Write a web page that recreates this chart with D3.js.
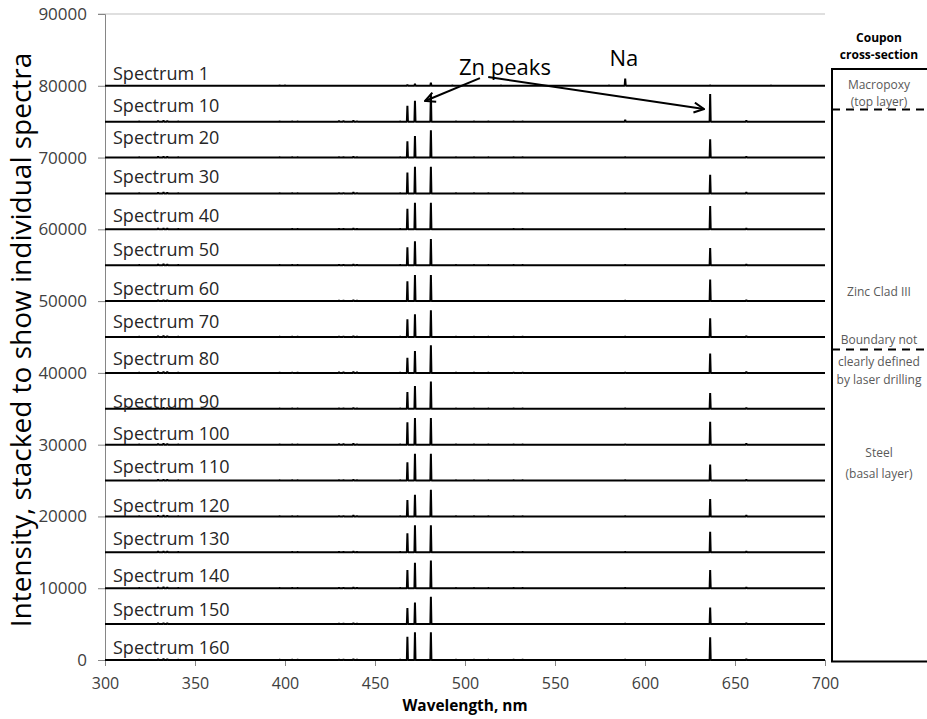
<!DOCTYPE html>
<html>
<head>
<meta charset="utf-8">
<script src="https://cdn.jsdelivr.net/npm/d3@7"></script>
<style>
  html, body { margin: 0; padding: 0; background: #fff; }
  svg { display: block; font-family: "Open Sans", "Noto Sans", sans-serif; }
</style>
</head>
<body>
<svg id="chart" width="927" height="719"></svg>
<script>
// Spectra, top to bottom, each lifted by its stack offset
const spectrumNames = ["Spectrum 1", "Spectrum 10", "Spectrum 20", "Spectrum 30", "Spectrum 40",
  "Spectrum 50", "Spectrum 60", "Spectrum 70", "Spectrum 80", "Spectrum 90", "Spectrum 100",
  "Spectrum 110", "Spectrum 120", "Spectrum 130", "Spectrum 140", "Spectrum 150", "Spectrum 160"];
const stackOffsets = [80000, 75000, 70000, 65000, 60000, 55000, 50000, 45000, 40000,
  35000, 30000, 25000, 20000, 15000, 10000, 5000, 0];

// Peak intensities above each spectrum's own baseline
const zn468 = [150, 2230, 2270, 2920, 2880, 2500, 2780, 2460, 2090, 2320, 3110, 2550, 2270, 2650, 2550, 2230, 3250];
const zn472 = [300, 2920, 3000, 3720, 3710, 3340, 3620, 3160, 3060, 3160, 3720, 3720, 3020, 3760, 3530, 3020, 3860];
const zn481 = [450, 3900, 3800, 3720, 3710, 3660, 3620, 3720, 3860, 3800, 3720, 3720, 3720, 3760, 3860, 3800, 3860];
const zn636 = [80, 3860, 2550, 2600, 3250, 2410, 3020, 2600, 2690, 2180, 3200, 2230, 2410, 2880, 2550, 2320, 3160];
const na589 = [1000, 250, 90, 80, 80, 80, 80, 80, 80, 80, 80, 80, 80, 80, 80, 80, 80];

// Weak lines seen in the coated/steel spectra: [wavelength nm, intensity]
const minorLines = [[319, 50], [329.5, 150], [332.5, 180], [334.6, 150], [340.7, 60],
  [397, 50], [404, 70], [407, 60], [430, 100], [432.5, 100], [438, 160], [440, 90],
  [464, 60], [495, 50], [505, 50], [513, 50], [527, 70], [532, 70], [656.3, 160]];
// Weak lines of the top (epoxy) spectrum
const topMinorLines = [[397, 80], [400, 70], [493, 80], [520, 50], [580, 60], [670, 40]];

const xTicks = [300, 350, 400, 450, 500, 550, 600, 650, 700];
const yTicks = [0, 10000, 20000, 30000, 40000, 50000, 60000, 70000, 80000, 90000];

const svg = d3.select("#chart");
const x = d3.scaleLinear().domain([300, 700]).range([105, 825]);
const y = d3.scaleLinear().domain([0, 90000]).range([660, 14]);
const axisGrey = "#868686";

// top frame line of the plot area
svg.append("line")
  .attr("x1", 98).attr("x2", 825)
  .attr("y1", y(90000)).attr("y2", y(90000))
  .attr("stroke", "#bfbfbf").attr("stroke-width", 1);

// Y axis
const yAxis = svg.append("g")
  .attr("transform", `translate(${x(300)},0)`)
  .call(d3.axisLeft(y).tickValues(yTicks).tickFormat(d3.format("d")).tickSize(7).tickPadding(11));
yAxis.select(".domain").attr("stroke", axisGrey).attr("stroke-width", 1);
yAxis.selectAll(".tick line").attr("stroke", axisGrey);
yAxis.selectAll(".tick text").attr("fill", "#404040").style("font-size", "17px")
  .style("font-family", "'Open Sans', sans-serif");

// X axis
const xAxis = svg.append("g")
  .attr("transform", `translate(0,${y(0)})`)
  .call(d3.axisBottom(x).tickValues(xTicks).tickSize(6).tickPadding(12));
xAxis.select(".domain").attr("stroke", axisGrey);
xAxis.selectAll(".tick line").attr("stroke", axisGrey);
xAxis.selectAll(".tick text").attr("fill", "#404040").style("font-size", "16px")
  .style("font-family", "'Open Sans', sans-serif");

// Build each spectrum as a baseline with narrow line peaks
function spectrumPeaks(i) {
  const peaks = (i === 0 ? topMinorLines : minorLines).slice();
  peaks.push([468.0, zn468[i]], [472.2, zn472[i]], [481.05, zn481[i]], [636.2, zn636[i]], [589.0, na589[i]]);
  peaks.sort((a, b) => a[0] - b[0]);
  const pts = [[300, 0]];
  peaks.forEach(([wl, h]) => { pts.push([wl - 0.3, 0], [wl, h], [wl + 0.3, 0]); });
  pts.push([700, 0]);
  return pts;
}

const spectra = spectrumNames.map((name, i) => ({ name, offset: stackOffsets[i], pts: spectrumPeaks(i) }));

const line = d3.line();
svg.append("g").selectAll("path")
  .data(spectra)
  .join("path")
  .attr("d", s => line(s.pts.map(([wl, v]) => [x(wl), y(v + s.offset)])))
  .attr("fill", "none")
  .attr("stroke", "#000")
  .attr("stroke-width", 2)
  .attr("stroke-linejoin", "bevel");

// Spectrum labels sit just above their baselines
const labelLift = [6, 10, 14, 10, 7, 9.5, 6, 9, 7.5, 1, 5, 8, 4, 7, 6, 8, 6];
svg.append("g").selectAll("text")
  .data(spectra)
  .join("text")
  .attr("x", 113)
  .attr("y", (s, i) => y(s.offset) - labelLift[i])
  .attr("fill", "#262626")
  .style("font-size", "18px")
  .text(s => s.name);

// Axis titles
svg.append("text")
  .attr("transform", `translate(31,${(y(0) + y(90000)) / 2 + 3}) rotate(-90)`)
  .attr("text-anchor", "middle")
  .attr("fill", "#000")
  .style("font-size", "28px")
  .text("Intensity, stacked to show individual spectra");

svg.append("text")
  .attr("x", 465).attr("y", 711)
  .attr("text-anchor", "middle")
  .attr("fill", "#000")
  .style("font-size", "15.4px").style("font-weight", "bold")
  .text("Wavelength, nm");

// Annotations
const defs = svg.append("defs");
defs.append("marker")
  .attr("id", "openArrow")
  .attr("markerUnits", "userSpaceOnUse")
  .attr("viewBox", "0 0 12 12")
  .attr("markerWidth", 12).attr("markerHeight", 12)
  .attr("refX", 11).attr("refY", 6)
  .attr("orient", "auto")
  .append("path")
  .attr("d", "M1,1 L11,6 L1,11")
  .attr("fill", "none").attr("stroke", "#000").attr("stroke-width", 2);

svg.append("text")
  .attr("x", x(522.2)).attr("y", y(81500))
  .attr("text-anchor", "middle").attr("fill", "#000")
  .style("font-size", "22px")
  .text("Zn peaks");

svg.append("text")
  .attr("x", x(588.3)).attr("y", y(82700))
  .attr("text-anchor", "middle").attr("fill", "#000")
  .style("font-size", "22px")
  .text("Na");

const arrows = [
  { from: [508.3, 81070], to: [477.8, 77880] },
  { from: [512.9, 81210], to: [632.8, 76760] }
];
svg.append("g").selectAll("line")
  .data(arrows)
  .join("line")
  .attr("x1", d => x(d.from[0])).attr("y1", d => y(d.from[1]))
  .attr("x2", d => x(d.to[0])).attr("y2", d => y(d.to[1]))
  .attr("stroke", "#000").attr("stroke-width", 2)
  .attr("marker-end", "url(#openArrow)");

// Coupon cross-section panel
const panel = svg.append("g");
const px0 = 832, py0 = 69, py1 = 661.5, px1 = 940;
panel.append("path")
  .attr("d", `M${px1},${py0} L${px0},${py0} L${px0},${py1} L${px1},${py1}`)
  .attr("fill", "none").attr("stroke", "#000").attr("stroke-width", 2);

[109.5, 349.5].forEach(yy => {
  panel.append("line")
    .attr("x1", px0).attr("x2", px1).attr("y1", yy).attr("y2", yy)
    .attr("stroke", "#000").attr("stroke-width", 2)
    .attr("stroke-dasharray", "8,6");
});

const cx = 879;
[["Coupon", 42], ["cross-section", 59]].forEach(([t, yy]) => {
  panel.append("text").attr("x", cx).attr("y", yy).attr("text-anchor", "middle")
    .attr("fill", "#000").style("font-size", "12px").style("font-weight", "bold").text(t);
});

const layerNotes = [["Macropoxy", 89], ["(top layer)", 105.5], ["Zinc Clad III", 296],
  ["Boundary not", 344], ["clearly defined", 366], ["by laser drilling", 384],
  ["Steel", 457], ["(basal layer)", 478]];
layerNotes.forEach(([t, yy]) => {
  panel.append("text").attr("x", cx).attr("y", yy).attr("text-anchor", "middle")
    .attr("fill", "#595959").style("font-size", "12px").text(t);
});
</script>
</body>
</html>
